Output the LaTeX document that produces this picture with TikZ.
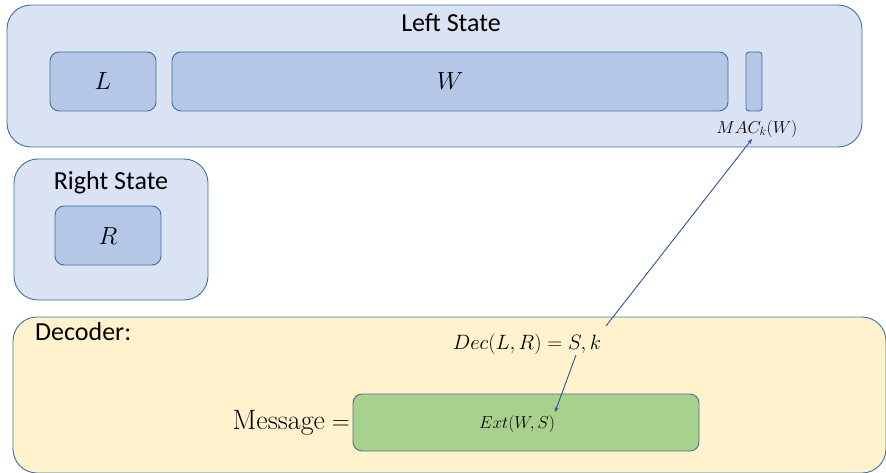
\documentclass[tikz,border=0pt]{standalone}
\usepackage{fontspec}
\setsansfont{Carlito}
\usetikzlibrary{arrows.meta}
\definecolor{outerblue}{HTML}{DAE3F3}
\definecolor{innerblue}{HTML}{B4C7E7}
\definecolor{edgeblue}{HTML}{41719C}
\definecolor{decfill}{HTML}{FFF2CC}
\definecolor{greenfill}{HTML}{A9D18E}
\definecolor{arrowblue}{HTML}{2F5597}
\tikzset{
  outerbox/.style={draw=edgeblue, line width=0.9pt, fill=outerblue, rounded corners=24pt, inner sep=0pt},
  innerbox/.style={draw=edgeblue, line width=0.9pt, fill=innerblue, rounded corners=9pt, inner sep=0pt},
  decbox/.style={draw=edgeblue, line width=0.9pt, fill=decfill, rounded corners=24pt, inner sep=0pt},
  extbox/.style={draw=edgeblue, line width=0.9pt, fill=greenfill, rounded corners=9pt, inner sep=0pt},
  title/.style={font=\sffamily\fontsize{26}{28}\selectfont, inner sep=0pt},
  bigmath/.style={font=\fontsize{25}{27}\selectfont, inner sep=0pt},
  msgmath/.style={font=\fontsize{28}{30}\selectfont, inner sep=0pt},
  midmath/.style={font=\fontsize{22.5}{24}\selectfont, inner sep=0pt},
  smallmath/.style={font=\fontsize{17.5}{19}\selectfont, inner sep=0pt},
  arr/.style={draw=arrowblue, line width=0.9pt, -{Stealth[length=5pt,width=4pt]}}
}
\begin{document}
\begin{tikzpicture}[x=1pt,y=-1pt]
\useasboundingbox (0,0) rectangle (886,473);
% Left state
\node[outerbox, minimum width=855pt, minimum height=142pt] (left) at (434.5,76) {};
\node[title] (lefttitle) at (451,23) {Left State};
\node[innerbox, minimum width=106pt, minimum height=59pt] (L) at (103,81.5) {};
\node[bigmath] at (L.center) {$L$};
\node[innerbox, minimum width=556pt, minimum height=59pt] (W) at (450,81.5) {};
\node[bigmath] at (W.center) {$W$};
\node[innerbox, rounded corners=3pt, minimum width=16pt, minimum height=59pt] (macbox) at (754,81.5) {};
\node[smallmath] (mac) at (757,129) {$MAC_k(W)$};
% Right state
\node[outerbox, minimum width=194pt, minimum height=141pt] (right) at (111,229.5) {};
\node[title] (righttitle) at (111,183) {Right State};
\node[innerbox, minimum width=106pt, minimum height=59pt] (R) at (108,235.5) {};
\node[bigmath] at (R.center) {$R$};
% Decoder
\node[decbox, minimum width=873pt, minimum height=156pt] (dec) at (449.5,395) {};
\node[title, anchor=west] (dectitle) at (35,332) {Decoder:};
\node[midmath] (decline) at (527,344) {$Dec(L,R)=S,k$};
\node[extbox, minimum width=346pt, minimum height=57pt] (ext) at (526,422.5) {};
\node[smallmath] (exttext) at (517,424) {$Ext(W,S)$};
\node[msgmath, anchor=east] (msg) at (350,423) {$\mathrm{Message}=$};
% Arrows
\coordinate (a1) at (606,326);
\coordinate (a2) at (576,355);
\coordinate (t1) at (752,139);
\coordinate (t2) at (555,412);
\draw[arr] (a1) -- (t1);
\draw[arr] (a2) -- (t2);
\end{tikzpicture}
\end{document}
